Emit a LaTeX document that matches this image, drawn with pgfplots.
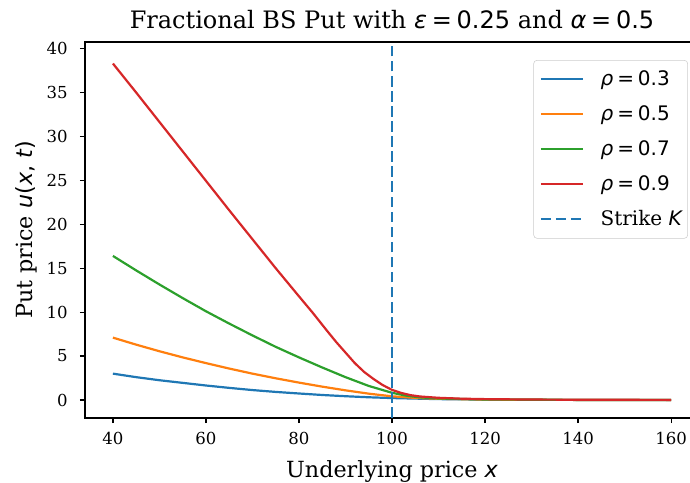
\documentclass[border=0pt]{standalone}
\usepackage{pgfplots}
\pgfplotsset{compat=1.18}
\usepackage{fontspec}
\setmainfont{DejaVu Serif}
\newfontfamily\mfont{DejaVu Sans}
\newcommand{\mi}[1]{{\mfont\itshape #1}}
\newcommand{\mr}[1]{{\mfont #1}}
\newcommand{\meq}{\mr{\hspace{0.2em}=\hspace{0.2em}}}
\definecolor{tabblue}{HTML}{1F77B4}
\definecolor{taborange}{HTML}{FF7F0E}
\definecolor{tabgreen}{HTML}{2CA02C}
\definecolor{tabred}{HTML}{D62728}

\begin{document}
\begin{tikzpicture}
\begin{axis}[
  scale only axis,
  width=460.5pt, height=282pt,
  xmin=34, xmax=166, ymin=-2.05, ymax=40.75,
  xtick={40,60,...,160}, ytick={0,5,...,40},
  tick align=outside, xtick pos=bottom, ytick pos=left,
  major tick length=3.75pt,
  axis line style={line width=0.9pt},
  every tick/.style={black, line width=0.9pt},
  /pgf/number format/assume math mode=true,
  tick label style={font=\fontsize{12.4}{14}\selectfont},
  xticklabel style={yshift=-3.5pt},
  yticklabel style={xshift=-5.75pt},
  title={Fractional BS Put with \mi{ε}\meq\mr{0.25} and \mi{α}\meq\mr{0.5}},
  title style={font=\fontsize{18}{21}\selectfont, at={(axis description cs:0.5,1.0141)}, anchor=base},
  xlabel={Underlying price \mi{x}},
  xlabel style={font=\fontsize{16.7}{20}\selectfont, at={(axis description cs:0.5,-0.157)}, anchor=base},
  ylabel={Put price \mi{u}\mr{(}\mi{x}\mr{, }\mi{t}\mr{)}},
  ylabel style={font=\fontsize{16.7}{20}\selectfont, at={(axis description cs:-0.0855,0.5)}, anchor=base},
  legend cell align=left,
  legend image code/.code={\draw[#1] (0pt,0pt) -- (32pt,0pt);},
  legend style={at={(axis description cs:0.982,0.952)}, anchor=north east,
    draw=black!20, rounded corners=2.5pt, fill=white, fill opacity=0.8, text opacity=1,
    font=\fontsize{15}{18}\selectfont, inner xsep=4.5pt, inner ysep=5pt,
    nodes={inner sep=0pt, text height=14.1pt, text depth=4.4pt},
    row sep=7.75pt, /tikz/every odd column/.style={column sep=12pt}},
  every axis plot/.append style={line width=1.65pt},
]
\addplot[tabblue] coordinates {(40,3.0) (45,2.6) (50,2.25) (55,1.95) (60,1.65) (65,1.38) (70,1.13) (75,0.92) (80,0.74) (85,0.57) (90,0.43) (95,0.31) (100,0.22) (110,0.1) (120,0.05) (130,0.02) (140,0.01) (160,0.0)};
\addlegendentry{\mi{ρ}\meq\mr{0.3}}
\addplot[taborange] coordinates {(40,7.1) (45,6.3) (50,5.55) (55,4.85) (60,4.2) (65,3.58) (70,3.0) (75,2.47) (80,1.98) (85,1.52) (90,1.1) (95,0.72) (100,0.42) (105,0.24) (110,0.14) (120,0.05) (130,0.02) (140,0.01) (160,0.0)};
\addlegendentry{\mi{ρ}\meq\mr{0.5}}
\addplot[tabgreen] coordinates {(40,16.4) (45,14.75) (50,13.15) (55,11.6) (60,10.1) (65,8.7) (70,7.35) (75,6.05) (80,4.85) (85,3.7) (90,2.6) (95,1.6) (100,0.82) (103,0.5) (106,0.3) (110,0.17) (120,0.06) (130,0.03) (140,0.01) (160,0.0)};
\addlegendentry{\mi{ρ}\meq\mr{0.7}}
\addplot[tabred] coordinates {(40,38.3) (45,35.0) (50,31.65) (55,28.3) (60,24.95) (65,21.6) (70,18.3) (75,15.0) (80,11.8) (83,9.9) (86,7.9) (88,6.6) (90,5.4) (92,4.2) (94,3.2) (96,2.4) (98,1.7) (100,1.15) (102,0.8) (104,0.55) (106,0.4) (110,0.25) (115,0.15) (120,0.1) (130,0.05) (140,0.03) (150,0.02) (160,0.01)};
\addlegendentry{\mi{ρ}\meq\mr{0.9}}
\addplot[tabblue, dash pattern=on 7.9pt off 3.4pt] coordinates {(100,-2.05) (100,40.75)};
\addlegendentry{Strike \mi{K}}
\end{axis}
\pgfresetboundingbox
\path ([xshift=-63.75pt,yshift=-48pt]current axis.south west) rectangle ([xshift=-6.75pt,yshift=31.5pt]current axis.north east);
\end{tikzpicture}
\end{document}
